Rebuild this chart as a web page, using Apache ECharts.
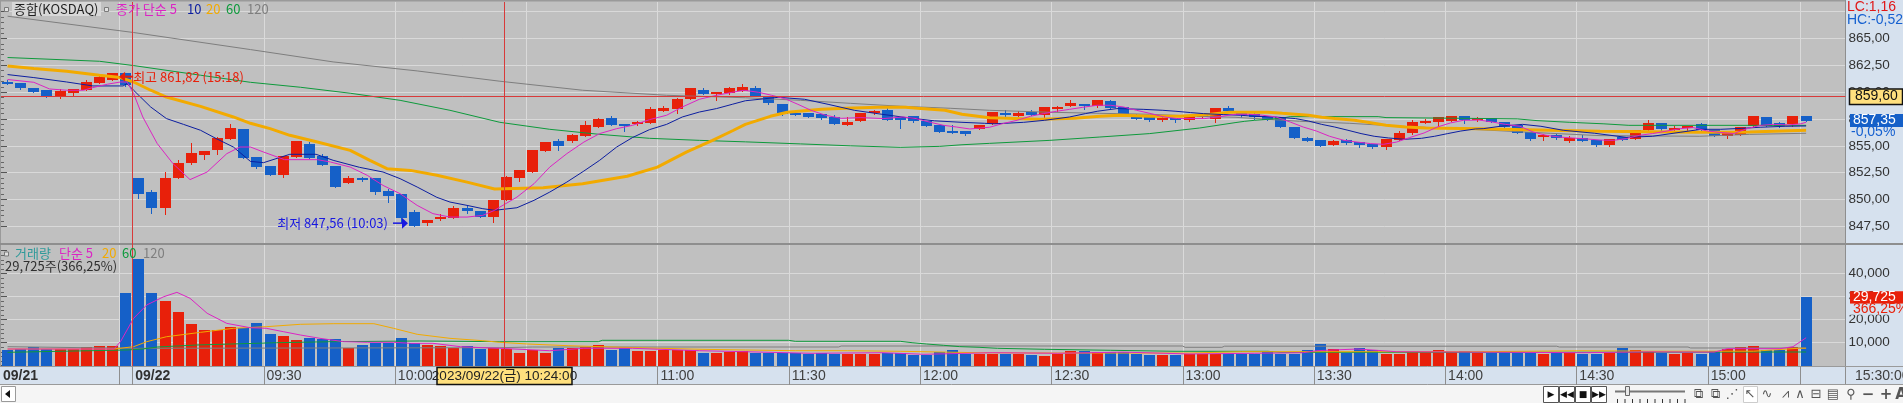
<!DOCTYPE html>
<html><head><meta charset="utf-8">
<script src="https://cdn.jsdelivr.net/npm/echarts@6/dist/echarts.min.js"></script>
<style>html,body{margin:0;padding:0;background:#c0c0c0;overflow:hidden}#c{width:1903px;height:403px}</style>
</head><body><div id="c"></div>
<script>
// ---------- DATA (3-minute candles, KOSDAQ composite, 09/21 14:54 .. 09/22 15:30) ----------
const opens = [860.97,860.86,860.39,860.21,859.65,859.90,860.18,860.86,861.12,861.80,
851.97,850.66,849.20,852.00,853.40,854.14,854.61,855.63,856.54,853.93,
853.09,852.28,853.96,855.21,854.05,853.09,851.53,851.97,851.97,850.76,
850.48,848.80,847.80,848.14,848.27,849.17,848.92,848.36,849.94,852.00,
852.53,854.49,855.42,855.42,855.89,856.73,857.56,857.00,857.00,857.10,
858.22,858.40,859.34,860.18,859.80,859.90,860.15,860.36,859.52,858.87,
858.03,858.03,857.94,857.66,856.91,857.29,858.13,858.31,857.66,857.75,
857.29,856.91,856.35,856.35,856.54,857.07,858.03,857.75,858.13,857.85,
858.40,858.69,858.87,858.69,859.15,858.59,857.85,857.75,857.38,857.56,
857.38,857.75,857.47,858.50,858.22,857.94,857.75,857.66,856.73,855.70,
855.51,855.05,855.51,855.33,855.14,854.86,855.51,856.17,857.10,857.19,
857.29,857.75,857.38,857.56,857.19,856.91,856.26,855.79,855.98,855.42,
855.70,855.51,855.05,855.79,855.61,856.45,857.10,856.45,856.63,857.00,
856.45,855.89,855.98,856.82,857.66,857.10,857.00,857.75];
const closes = [860.93,860.39,860.02,859.65,860.11,860.30,860.92,861.46,861.78,860.64,
850.50,849.20,851.97,853.43,854.30,854.49,855.70,856.63,853.86,853.02,
852.28,854.05,855.42,853.86,853.21,851.16,851.97,851.78,850.66,850.29,
848.24,847.56,848.05,848.36,849.17,848.92,848.36,849.92,852.06,852.71,
854.58,855.33,854.95,855.98,856.91,857.47,856.91,856.91,857.19,858.40,
858.50,859.34,860.36,859.80,859.99,860.36,860.46,859.62,858.96,857.94,
857.85,857.66,857.56,857.00,857.19,858.03,858.22,857.38,857.38,857.29,
856.82,856.26,856.17,856.07,856.91,858.13,857.94,858.03,857.85,858.59,
858.59,858.96,858.69,859.24,858.50,857.75,857.47,857.38,857.56,857.38,
857.85,857.85,858.50,858.22,857.85,857.66,857.38,856.73,855.70,855.42,
854.95,855.42,855.23,855.05,854.86,855.61,856.17,857.19,857.29,857.66,
857.75,857.38,857.56,857.19,856.73,856.17,855.61,855.98,855.70,855.70,
855.42,855.05,855.61,855.51,856.45,857.10,856.54,856.63,856.82,856.45,
855.89,856.26,856.73,857.75,856.82,856.82,857.75,857.35];
const lows = [860.80,860.30,860.02,859.59,859.46,859.74,860.18,860.86,861.12,860.60,
850.13,848.73,848.64,852.00,853.34,853.77,854.24,855.63,853.86,852.93,
852.28,852.09,853.96,853.86,853.21,851.16,851.53,851.69,850.54,849.76,
847.86,847.56,847.65,848.05,848.27,848.73,848.36,847.86,849.94,851.69,
852.53,854.49,854.58,855.33,855.89,856.73,856.91,856.35,856.91,857.10,
858.22,858.03,859.34,859.80,859.24,859.80,860.15,859.62,858.87,857.85,
857.85,857.66,857.47,857.00,856.91,857.29,857.94,857.38,856.63,857.19,
856.82,856.26,856.17,855.98,856.54,857.07,857.75,857.75,857.85,857.56,
858.22,858.69,858.40,858.59,858.50,857.75,857.47,857.29,857.29,857.19,
857.29,857.56,857.19,858.22,857.66,857.47,857.38,856.73,855.70,855.42,
854.95,855.05,855.14,854.86,854.77,854.67,855.51,856.07,857.10,856.73,
857.29,857.10,857.29,857.19,856.63,856.17,855.51,855.51,855.60,855.33,
855.42,854.95,854.95,855.51,855.61,856.45,856.45,856.35,856.26,856.45,
855.89,855.70,855.98,856.82,856.82,856.73,856.82,857.35];
const highs = [861.10,860.86,860.39,860.21,860.30,860.30,861.11,861.50,861.82,861.82,
851.97,850.85,852.53,853.65,855.23,854.50,855.79,857.07,856.54,853.93,
853.09,854.05,855.42,855.33,854.21,853.09,852.18,852.06,851.97,850.94,
850.48,848.99,848.05,848.61,849.36,849.48,848.92,849.92,852.16,852.71,
854.58,855.33,855.61,856.07,857.29,857.56,857.75,857.00,857.29,858.59,
858.69,859.43,860.36,860.36,859.99,860.46,860.74,860.55,859.52,858.87,
858.13,858.03,857.94,857.85,857.66,858.03,858.31,858.59,857.66,857.75,
857.29,856.91,856.91,856.35,856.91,858.13,858.31,858.22,858.31,858.59,
858.69,859.24,858.87,859.24,859.24,858.59,857.94,857.75,857.70,857.56,
857.85,858.03,858.50,858.69,858.22,858.03,857.75,857.66,856.73,855.79,
855.51,855.51,855.61,855.33,855.14,855.61,856.35,857.38,857.47,857.66,
857.75,857.75,857.70,857.56,857.19,856.91,856.26,856.07,856.07,855.89,
855.98,855.51,855.61,855.79,856.45,857.38,857.10,856.82,856.82,857.10,
856.45,856.26,856.73,857.75,857.66,857.19,857.75,857.75];
const volumes = [6830,7260,8130,7260,7260,7260,8130,8560,8560,31600,
46400,31600,28130,23350,18130,15520,15520,16820,16390,18560,
13780,12910,11170,12040,11610,11610,7700,9000,9870,9870,
12040,9870,9000,8560,7700,8560,7260,7700,7130,5520,
6830,5520,7700,7700,8130,9000,6830,7700,6390,6390,
6830,6830,6830,5520,5520,5960,6390,5520,5520,5520,
5520,5090,5520,5090,5090,5090,5090,5520,5520,4650,
4650,5960,6830,5090,5090,5090,5090,5090,4650,4220,
5090,6390,6390,5960,5960,5960,5090,4650,4650,4650,
5090,5090,5090,5090,5090,5090,6390,5090,5090,6830,
9430,7260,5520,7700,6830,5090,5090,5960,5960,6830,
5960,6390,5520,5650,5650,5650,5650,5220,5650,5650,
5220,5220,5650,7700,6830,6090,5650,5220,5650,5220,
6390,7260,8130,8560,6960,6960,8130,29725];

// price moving averages: [candle index, value]
const ma5 = [[0,861.18],[2,860.92],[3.2,860.30],[4.5,860.18],[5.8,860.18],[6.5,860.43],[7.6,860.74],[8.6,860.95],[9.1,860.95],[9.6,859.87],[10.3,857.69],[11.4,855.21],[12.6,853.34],[13.9,851.85],[15.2,852.56],[16.7,854.27],[17.7,854.89],[18.5,854.89],[19.5,854.42],[21.1,853.71],[23.6,853.71],[24.6,853.49],[26.1,853.02],[27.4,852.25],[28.6,851.31],[29.9,850.54],[31.2,849.45],[32.4,848.68],[33.7,848.36],[35.0,848.36],[36.2,848.52],[37.1,848.99],[37.5,849.29],[38.8,850.22],[40.1,851.47],[41.3,853.02],[42.6,854.27],[43.9,855.35],[45.1,856.14],[46.4,856.60],[47.6,856.91],[48.9,857.44],[50.2,857.85],[51.4,858.62],[52.7,859.34],[54.0,859.71],[55.2,859.99],[56.1,860.18],[57.2,859.99],[58.2,859.71],[59.2,859.40],[60.2,858.87],[61.2,858.31],[62.3,857.85],[63.5,857.56],[65,857.63],[66.7,857.54],[68.2,857.69],[69.2,857.54],[70.2,857.22],[71.3,856.91],[72.3,856.75],[73.3,856.57],[74.8,856.73],[75.8,857.07],[76.9,857.38],[77.9,857.75],[78.9,858.0],[79.9,858.22],[80.9,858.40],[81.9,858.59],[83.0,858.78],[84.0,858.78],[85.0,858.62],[86.0,858.31],[87.1,858.0],[88.1,857.69],[89.1,857.54],[91.2,857.54],[92.2,857.69],[93.5,857.94],[94.6,857.94],[95.6,857.85],[96.6,857.69],[97.7,857.22],[98.7,856.75],[99.7,856.38],[100.7,855.89],[101.8,855.51],[102.8,855.35],[103.8,855.21],[104.8,855.14],[105.8,855.35],[106.8,855.77],[107.9,856.20],[108.9,856.75],[109.9,857.13],[110.9,857.38],[112.1,857.40],[113.1,857.22],[114.1,857.0],[115.2,856.82],[116.2,856.29],[117.2,855.98],[118.2,855.82],[119.2,855.73],[120.3,855.64],[121.3,855.54],[122.3,855.51],[123.3,855.67],[124.3,855.98],[125.3,856.14],[126.4,856.38],[127.4,856.60],[128.4,856.70],[129.4,856.40],[130.4,856.25],[131.5,856.15],[132.5,856.60],[133.5,856.90],[134.5,857.0],[135.6,856.95],[136.6,857.05],[137,857.20]];
const ma10 = [[0,861.64],[2,861.36],[4.5,860.95],[6.5,860.58],[8.8,860.58],[9.1,860.80],[9.6,860.18],[10.9,858.62],[12.1,857.54],[13.4,857.0],[14.7,856.45],[15.9,855.67],[17.2,854.89],[18.5,853.55],[19.5,853.43],[21.5,854.21],[23.5,854.21],[24.8,853.65],[26.8,853.0],[28.6,852.56],[29.9,851.94],[31.2,851.16],[32.7,850.20],[33.7,849.76],[35.0,849.45],[36.2,849.14],[37.1,848.99],[38.8,849.23],[40.1,849.92],[41.3,850.69],[42.6,851.62],[43.9,852.65],[45.1,853.65],[46.4,854.89],[47.6,855.77],[48.9,856.51],[50.2,857.0],[51.4,857.69],[52.7,858.15],[54.0,858.47],[55.2,858.87],[56.2,859.20],[58.7,859.52],[60.7,859.34],[62.5,858.87],[64.5,858.31],[66.6,857.94],[68.6,857.61],[70.6,857.33],[72.7,857.19],[74.4,857.10],[75.2,857.05],[77.4,857.19],[79.0,857.38],[80.9,857.69],[82.1,858.0],[83.0,858.22],[84.5,858.47],[86.5,858.40],[88.0,858.31],[89.0,858.22],[90.1,858.10],[91.1,858.0],[92.6,857.91],[93.9,857.85],[95.0,857.75],[96.5,857.69],[98.1,857.54],[99.1,857.31],[100.1,857.0],[101.1,856.75],[102.1,856.45],[103.1,856.14],[104.1,855.89],[105.2,855.73],[106.4,855.61],[107.7,855.70],[108.7,855.89],[109.7,856.14],[110.7,856.38],[111.8,856.57],[112.4,856.60],[113.7,856.82],[115.4,857.0],[116.8,856.82],[118.5,856.45],[120.9,856.17],[123.3,855.79],[125.3,855.89],[127.4,856.26],[129.0,856.54],[130.5,856.54],[132.1,856.63],[133.5,856.73],[135.4,856.82],[137,856.85]];
const ma20 = [[0,862.44],[2.0,862.20],[4.5,861.95],[7.0,861.58],[8.6,861.36],[9.6,860.95],[10.9,860.18],[12.1,859.55],[14.7,858.68],[17.2,857.69],[18.5,857.10],[20.0,856.60],[21.5,855.98],[23.6,855.35],[26.1,854.58],[27.6,853.65],[28.9,852.87],[30.7,852.71],[32.7,852.25],[35.0,851.62],[37.1,850.97],[40.8,851.10],[43.8,851.47],[47.2,852.16],[49.5,853.02],[51.7,854.42],[53.7,855.51],[55.3,856.45],[56.2,857.0],[58.1,857.75],[59.4,858.13],[62.0,858.41],[63.8,858.50],[66.3,858.59],[68.4,858.59],[69.3,858.50],[71.4,858.31],[72.7,857.94],[74.8,857.62],[78.6,857.47],[81.3,857.57],[83.2,857.75],[84.7,857.85],[87.0,857.75],[89.3,857.75],[91.6,857.94],[93.1,858.13],[96.0,858.13],[97.1,858.03],[98.1,857.94],[99.1,857.85],[100.1,857.66],[101.1,857.54],[102.6,857.38],[103.6,857.19],[105.0,856.91],[106.5,856.75],[108.0,856.66],[112.1,856.60],[117.5,856.45],[121.3,856.35],[128.9,856.26],[132.7,856.30],[137,856.45]];
const ma60 = [[0,863.23],[7.0,862.88],[9.6,862.48],[14.7,861.58],[18.5,860.92],[22.3,860.46],[26.1,859.90],[29.9,859.24],[33.7,858.31],[37.5,857.19],[41.3,856.54],[45.1,856.07],[48.9,855.70],[52.7,855.51],[56.2,855.37],[60.4,855.18],[64.2,855.0],[68.0,854.86],[71.0,854.95],[72.7,855.10],[74.8,855.23],[79.4,855.51],[83.2,855.82],[87.0,856.14],[90.8,856.66],[93.5,857.16],[94.2,857.28],[95.0,857.38],[96.0,857.47],[97.0,857.57],[97.7,857.72],[104.4,857.72],[105,857.63],[112.1,857.55],[115,857.51],[116.5,857.35],[119,857.19],[121.6,857.05],[123.5,856.91],[137,856.91]];
const ma120 = [[0,867.08],[9.6,865.56],[18.5,863.97],[24.8,862.82],[31.2,861.98],[37.5,861.02],[43.8,860.18],[50.2,859.71],[56.2,859.48],[60.4,859.24],[64.2,858.96],[68.0,858.69],[71.8,858.50],[74.8,858.31],[79.4,858.13],[83.2,858.03],[87.0,857.94],[90.8,857.75],[93.5,857.66],[98.4,857.29],[102.2,857.10],[106.1,856.82],[109.9,856.63],[112.1,856.50],[117.5,856.17],[121.3,855.95],[128.9,855.89],[132.7,856.07],[137,856.17]];

// volume moving averages: [candle index, shares]
const vma5 = [[0,7260],[8.1,7260],[8.6,10440],[9.6,20600],[10.6,26400],[11.9,30000],[12.9,31900],[13.9,29300],[15.2,22800],[16.7,18400],[18.5,16500],[19.7,16260],[21.0,14800],[22.3,13350],[23.8,11900],[25.6,10440],[27.4,10170],[29.4,10170],[30.7,9740],[32.4,9740],[34.5,8260],[36.2,7830],[37.5,7560],[41.3,6520],[43.9,7560],[47.6,7560],[52.7,6520],[56.1,6090],[61.2,5390],[66.6,5650],[69.8,4960],[75,5650],[80,5400],[85,5900],[90,5100],[95,5400],[98.7,5650],[99.7,6520],[102.8,7260],[104,6800],[105.8,6090],[112,5900],[120,5650],[125,6000],[130,5900],[131,7390],[135,7390],[136,8260],[137,12170]];
const vma20 = [[0,7260],[8.1,7260],[9.6,8260],[10.6,10440],[12.1,12600],[14.7,14500],[17.2,16260],[19.7,16960],[22.3,18000],[24.8,18260],[27.9,18260],[29.4,16260],[31.2,13650],[33.7,11900],[36.2,10870],[37.5,10170],[39.6,9430],[42.7,8700],[47.8,7830],[52.9,7130],[56.2,6830],[60,6520],[64,6520],[68,6260],[74,5650],[80,5500],[90,5500],[94,6090],[112,6090],[120,6520],[125,6300],[133,6300],[136.5,7600],[137,7600]];
const vma60 = [[0,5820],[9.1,6830],[10.3,7260],[11.4,8130],[14.4,9000],[20.5,10000],[24.8,10440],[31.4,10740],[37.5,10440],[45,10440],[45.3,11040],[59.5,11040],[60,10600],[68,10600],[68.9,10000],[70,9430],[71.3,8870],[72.5,8300],[74,8000],[75.4,7560],[79,7130],[84,6700],[89,6260],[96,6260],[97,5820],[112,5820],[137,5960]];
const vma120 = [[0,8260],[9.6,7560],[37.5,7830],[40,8130],[63.3,8130],[63.5,8560],[89.5,8560],[89.7,8000],[92.5,8000],[92.7,8480],[118,8480],[118.2,8130],[128,8130],[128.2,7700],[137,7700]];

// time axis: candle index where each label cell starts
const tickIndex  = [0, 10, 20, 30, 40, 50, 60, 70, 80, 90, 100, 110, 120, 130];
const tickLabels = ['09/21','09/22','09:30','10:00','10:30','11:00','11:30','12:00','12:30','13:00','13:30','14:00','14:30','15:00'];
const separatorIndex = [9, 10, 20, 30, 40, 50, 60, 70, 80, 90, 100, 110, 120, 130, 137];

// ---------- STYLE ----------
const RED = '#e8200a', BLUE = '#1560c8';
const C5 = '#dc24c4', C10 = '#0c1ea0', C20 = '#f2aa00', C60 = '#0e9a3c', C120 = '#7e7e7e';
const PANEL = '#d6e1ee';
const NUM = '"Liberation Sans Narrow","Liberation Sans",Arial,sans-serif';
const KR = '"Noto Sans CJK KR","Noto Sans",sans-serif';

const candleData = opens.map((o, i) => [i + 0.5, o, closes[i], lows[i], highs[i]]);
const volData = volumes.map((v, i) => [i + 0.5, v, closes[i] >= opens[i] ? 1 : 0]);
const shift = a => a.map(p => [p[0] + 0.5, p[1]]);

function renderCandle(params, api) {
  const x = api.value(0), o = api.value(1), c = api.value(2), l = api.value(3), h = api.value(4);
  const po = api.coord([x, o]), pc = api.coord([x, c]), pl = api.coord([x, l]), ph = api.coord([x, h]);
  const col = c >= o ? RED : BLUE;
  const x0 = Math.round(po[0] - 5.5);
  let top = Math.round(Math.min(po[1], pc[1])), bot = Math.round(Math.max(po[1], pc[1]));
  if (bot - top < 2) bot = top + 2;
  const wx = x0 + 5.5;
  return { type: 'group', children: [
    { type: 'line', shape: { x1: wx, y1: Math.round(ph[1]), x2: wx, y2: Math.round(pl[1]) + 1 }, style: { stroke: col, lineWidth: 1 } },
    { type: 'rect', shape: { x: x0, y: top, width: 11, height: bot - top }, style: { fill: col } }
  ]};
}
function renderVol(params, api) {
  const x = api.value(0), v = api.value(1), up = api.value(2);
  const p0 = api.coord([x, 0]), p1 = api.coord([x, v]);
  const x0 = Math.round(p0[0] - 5.5);
  return { type: 'rect', shape: { x: x0, y: Math.round(p1[1]), width: 11, height: Math.round(p0[1]) - Math.round(p1[1]) }, style: { fill: up ? RED : BLUE } };
}
function maLine(arr, color, width, idx) {
  return { type: 'line', xAxisIndex: idx, yAxisIndex: idx, data: shift(arr), symbol: 'none', showSymbol: false,
    lineStyle: { color: color, width: width }, z: 4, silent: true, animation: false, clip: false };
}

const yAxisCommon = {
  type: 'value', position: 'right', z: 0,
  axisLine: { show: false },
  axisTick: { show: true, length: 6, lineStyle: { color: '#555' } },
  minorTick: { show: true, splitNumber: 5, length: 3, lineStyle: { color: '#666' } },
  splitLine: { show: true, lineStyle: { color: '#d9d9d9', width: 1 } }
};

const chart = echarts.init(document.getElementById('c'), null, { width: 1903, height: 403 });
chart.setOption({
  animation: false,
  backgroundColor: '#c0c0c0',
  grid: [
    { left: 1, width: 1844.5, top: 11.7, height: 214.6 },
    { left: 1, width: 1844.5, top: 250.7, height: 115 }
  ],
  xAxis: [
    { type: 'value', gridIndex: 0, min: 0, max: 140.5, show: false },
    { type: 'value', gridIndex: 1, min: 0, max: 140.5, show: false }
  ],
  yAxis: [
    Object.assign({}, yAxisCommon, { gridIndex: 0, min: 847.5, max: 867.5, interval: 2.5,
      axisLabel: { color: '#333', fontSize: 13.5, fontFamily: NUM, margin: 3,
        formatter: v => v > 866 ? '' : v.toFixed(2).replace('.', ',') } }),
    Object.assign({}, yAxisCommon, { gridIndex: 1, min: 0, max: 50000, interval: 10000,
      axisLabel: { color: '#333', fontSize: 13.5, fontFamily: NUM, margin: 3, showMinLabel: false, showMaxLabel: false,
        formatter: v => v.toLocaleString('en-US') },
      splitLine: { show: true, showMinLine: false, showMaxLine: false, lineStyle: { color: '#d9d9d9', width: 1 } } })
  ],
  series: [
    { type: 'custom', xAxisIndex: 0, yAxisIndex: 0, data: candleData, encode: { x: 0, y: [1, 2, 3, 4] }, renderItem: renderCandle, z: 3, silent: true },
    maLine(ma120, C120, 1, 0), maLine(ma60, C60, 1, 0), maLine(ma20, C20, 3, 0), maLine(ma10, C10, 1, 0), maLine(ma5, C5, 1, 0),
    { type: 'custom', xAxisIndex: 1, yAxisIndex: 1, data: volData, encode: { x: 0, y: 1 }, renderItem: renderVol, z: 3, silent: true },
    maLine(vma120, C120, 1, 1), maLine(vma60, C60, 1, 1), maLine(vma20, C20, 1, 1), maLine(vma5, C5, 1, 1)
  ]
});

// ---------- overlay drawn from the library's own scales ----------
const xp = v => chart.convertToPixel({ xAxisIndex: 0 }, v);
const yp = v => chart.convertToPixel({ yAxisIndex: 0 }, v);
const vp = v => chart.convertToPixel({ yAxisIndex: 1 }, v);
const AX = 1845.5, SEP = 244, VOL_BOT = 366, BAND_BOT = 385;
const g = [];
const line = (x1, y1, x2, y2, stroke, w, z) => g.push({ type: 'line', silent: true, z: z, shape: { x1, y1, x2, y2 }, style: { stroke: stroke, lineWidth: w || 1 } });
const rect = (x, y, w, h, fill, stroke, z, lw) => g.push({ type: 'rect', silent: true, z: z, shape: { x, y, width: w, height: h }, style: { fill: fill, stroke: stroke || null, lineWidth: lw || 1 } });
const text = (x, y, s, fill, font, z, align, extra) => g.push({ type: 'text', silent: true, z: z, style: Object.assign({ x, y, text: s, fill: fill, font: font, align: align || 'left', verticalAlign: 'middle' }, extra || {}) });

// panel backgrounds
rect(AX, 0, 1903 - AX, VOL_BOT, PANEL, null, -10);
rect(0, VOL_BOT, 1903, BAND_BOT - VOL_BOT, PANEL, null, -10);
rect(0, BAND_BOT, 1903, 403 - BAND_BOT, '#f5f5f5', null, -10);
// vertical grid lines
separatorIndex.forEach(k => { if (k !== 10) line(Math.round(xp(k)) + 0.5, 2, Math.round(xp(k)) + 0.5, VOL_BOT, '#dadada', 1, -5); });
// borders
line(0, 0.5, AX, 0.5, '#9a9a9a', 2, 1);
line(0.5, 0, 0.5, VOL_BOT, '#9a9a9a', 1, 1);
line(0, SEP, 1903, SEP, '#8e8e8e', 2, 1);
line(AX, 0, AX, BAND_BOT, '#8e8e8e', 1, 1);
line(0, VOL_BOT + 0.5, 1903, VOL_BOT + 0.5, '#9a9a9a', 1, 1);
line(0, BAND_BOT - 0.5, 1903, BAND_BOT - 0.5, '#9a9a9a', 1, 1);
// day separator and crosshair
const xDay = Math.round(xp(10)) + 0.5, xCross = Math.round(xp(38.35)) + 0.5, yCross = Math.round(yp(859.6)) + 0.5;
line(xDay, 2, xDay, VOL_BOT, '#d83a3a', 1, 6);
line(xCross, 2, xCross, VOL_BOT, '#d83a3a', 1, 6);
line(1, yCross, AX, yCross, '#d83a3a', 1, 6);
// x band separators and labels
separatorIndex.forEach(k => line(Math.round(xp(k)) + 0.5, VOL_BOT, Math.round(xp(k)) + 0.5, BAND_BOT, '#8e8e8e', 1, 2));
tickIndex.forEach((k, i) => {
  const bold = tickLabels[i].indexOf('/') >= 0;
  text(xp(k) + (k === 0 ? 2 : 3), 376, tickLabels[i], bold ? '#303030' : '#404040', (bold ? 'bold ' : '') + '14px ' + NUM, 3);
});
text(1855, 376, '15:30:00', '#404040', '14px ' + NUM, 3);
// crosshair time label
rect(xCross - 67.5, 367.5, 135, 17, '#ffe07e', '#111', 11, 1.5);
text(xCross, 376, '2023/09/22(금) 10:24:00', '#222', '13.5px ' + NUM + ',' + KR, 12, 'center');

// right-axis special labels
text(1847, 7, 'LC:1,16', '#e01818', '14px ' + NUM, 10);
text(1847, 20, 'HC:-0,52', '#1560d0', '14px ' + NUM, 10);
rect(1849.5, yp(859.6) - 7.5, 53, 15.5, '#ffe07e', '#111', 10, 1.5);
text(1855, yp(859.6), '859,60', '#111', '14px ' + NUM, 11);
rect(1850, yp(857.35) - 6.5, 53, 13, BLUE, null, 10);
text(1853, yp(857.35), '857,35', '#fff', '14px ' + NUM, 11);
rect(1850, yp(857.35) + 6.5, 53, 11, PANEL, null, 10);
text(1851, yp(857.35) + 12, '-0,05%', '#1560d0', '14px ' + NUM, 11);
rect(1850, vp(29725) - 6, 53, 12.5, RED, null, 10);
text(1853, vp(29725), '29,725', '#fff', '14px ' + NUM, 11);
rect(1850, vp(29725) + 6.5, 53, 11, PANEL, null, 10);
text(1853, vp(29725) + 12, '366,25%', '#e8200a', '14px ' + NUM, 11);

// legends
const LF = '13px ' + KR;
rect(4.5, 7.5, 4, 4, '#e0e0e0', '#7a7a7a', 10);
rect(12, 2, 89, 14, '#d8d8d8', null, 9);
text(14, 9, '종합(KOSDAQ)', '#1e1e1e', LF, 10);
rect(104.5, 7.5, 4, 4, '#e0e0e0', '#7a7a7a', 10);
text(116, 9, '종가 단순 5', C5, LF, 10);
text(187, 9, '10', C10, LF, 10);
text(206, 9, '20', C20, LF, 10);
text(226, 9, '60', C60, LF, 10);
text(247, 9, '120', C120, LF, 10);
rect(4.5, 252, 4, 4, '#e0e0e0', '#7a7a7a', 10);
text(15, 253.5, '거래량', '#2e9a9a', LF, 10);
text(59, 253.5, '단순 5', C5, LF, 10);
text(102, 253.5, '20', C20, LF, 10);
text(122, 253.5, '60', C60, LF, 10);
text(143, 253.5, '120', C120, LF, 10);
text(5, 266, '29,725주(366,25%)', '#303030', LF, 10);

// high / low annotations
const hx = xp(9.0), hy = yp(861.82) + 4;
g.push({ type: 'polygon', silent: true, z: 8, shape: { points: [[hx, hy], [hx + 6, hy - 5], [hx + 6, hy + 5]] }, style: { fill: '#e8200a' } });
line(hx + 6, hy, hx + 14, hy, '#e8200a', 2, 8);
text(hx + 14, hy, '최고 861,82 (15:18)', '#e8200a', '13px ' + KR, 8);
const lx = xp(31.0), ly = yp(847.56) - 2.5;
g.push({ type: 'polygon', silent: true, z: 8, shape: { points: [[lx, ly], [lx - 6, ly - 5.5], [lx - 6, ly + 5.5]] }, style: { fill: '#1818e0' } });
line(lx - 15, ly, lx - 6, ly, '#1818e0', 1.5, 8);
text(lx - 20, ly, '최저 847,56 (10:03)', '#1818e0', '13px ' + KR, 8, 'right');

// bottom control strip
rect(1.5, 386.5, 14, 15, '#fff', '#9a9a9a', 2);
g.push({ type: 'polygon', silent: true, z: 3, shape: { points: [[5, 394], [10, 390], [10, 398]] }, style: { fill: '#111' } });
const btn = (x, s) => { rect(x + 0.5, 386.5, 15, 16, '#fff', '#555', 2); text(x + 8, 394.5, s, '#111', '9px "DejaVu Sans"', 3, 'center'); };
btn(1543, '▶'); btn(1559, '◀◀'); btn(1575, '■'); btn(1591, '▶▶');
line(1615, 391.5, 1685, 391.5, '#777', 2, 2);
rect(1625.5, 386.5, 4, 9, '#e8e8e8', '#666', 3);
for (let i = 0; i < 10; i++) line(1617.5 + i * 7.5, 399, 1617.5 + i * 7.5, 403, '#333', 1, 2);
const icons = ['⧉', '⧉', '⋰', '↖', '∿', '⩘', '∧', '⊟', '▤', '⚲', '−', '+', 'A'];
const iconX = [1698, 1715, 1732, 1750, 1767, 1785, 1800, 1816, 1833, 1851, 1868, 1886, 1901];
rect(1743.5, 386.5, 14, 16, '#fff', '#ccc', 2);
icons.forEach((s, i) => text(iconX[i], 395, s, '#555', (i >= 10 ? 'bold 15px ' : '13px ') + '"DejaVu Sans"', 3, 'center'));

chart.setOption({ graphic: { elements: g } });
</script></body></html>
